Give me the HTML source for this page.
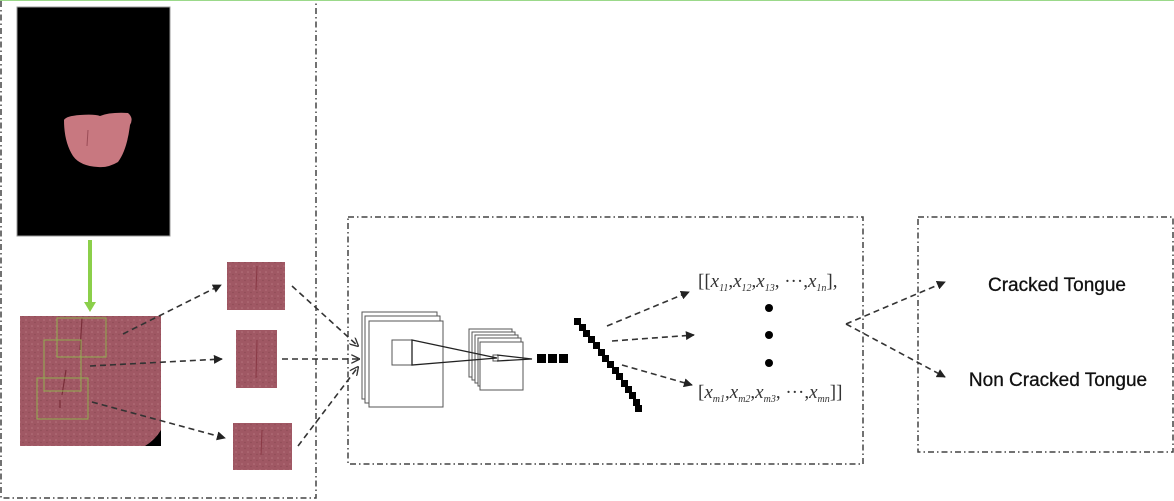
<!DOCTYPE html>
<html><head><meta charset="utf-8"><style>
html,body{margin:0;padding:0;background:#fff;width:1174px;height:501px;overflow:hidden}
</style></head><body>
<svg width="1174" height="501" viewBox="0 0 1174 501" xmlns="http://www.w3.org/2000/svg">
<defs>
<marker id="a" viewBox="0 0 10 10" refX="9" refY="5" markerWidth="9" markerHeight="9" orient="auto" markerUnits="userSpaceOnUse"><path d="M0,0L10,5L0,10z" fill="#222"/></marker>
<marker id="o" viewBox="0 0 10 10" refX="9" refY="5" markerWidth="9" markerHeight="9" orient="auto" markerUnits="userSpaceOnUse"><path d="M0,0L10,5L0,10" fill="none" stroke="#333" stroke-width="1.5"/></marker>
<pattern id="tx" width="6" height="6" patternUnits="userSpaceOnUse"><rect width="6" height="6" fill="#a05864"/><circle cx="2" cy="2" r="0.8" fill="#b6737c"/><circle cx="5" cy="4.5" r="0.7" fill="#8c4a54"/></pattern>
</defs>
<line x1="0" y1="0.5" x2="1174" y2="0.5" stroke="#9bd98a" stroke-width="1"/>
<g fill="none" stroke="#444" stroke-width="1.5" stroke-dasharray="6,3,1.5,3">
<path d="M1,1V498H316V1"/>
<rect x="348" y="217" width="515" height="247"/>
<rect x="918" y="217" width="255" height="235"/>
</g>
<rect x="17" y="7" width="153" height="229" fill="#000" stroke="#999" stroke-width="1"/>
<path d="M64,120 Q66,116 80,115 Q95,114 100,116 Q110,112 128,113 Q134,118 130,125 Q127,150 118,162 Q108,168 98,167 Q80,166 73,156 Q64,142 64,120z" fill="#c87880"/>
<path d="M88,130 L87,146" stroke="#9a4c56" stroke-width="1"/>
<line x1="90" y1="240" x2="90" y2="303" stroke="#8bcf4a" stroke-width="4"/>
<path d="M84,302L96,302L90,312z" fill="#8bcf4a"/>
<rect x="20" y="316" width="141" height="130" fill="url(#tx)"/>
<path d="M161,430 L161,446 L145,446 Q155,440 161,430z" fill="#000"/>
<path d="M82,318L80,350M66,370L62,395M60,400L60,408" stroke="#7a2f3a" stroke-width="1.2"/>
<g fill="none" stroke="#8fae4e" stroke-width="1">
<rect x="57" y="318" width="49" height="39"/>
<rect x="44" y="340" width="37" height="51"/>
<rect x="37" y="378" width="51" height="41"/>
</g>
<rect x="227" y="262" width="58" height="48" fill="url(#tx)"/>
<rect x="236" y="330" width="41" height="58" fill="url(#tx)"/>
<rect x="233" y="423" width="59" height="47" fill="url(#tx)"/>
<path d="M257,266L256,290M257,340L256,378M262,430L261,455" stroke="#8a3a46" stroke-width="1"/>
<g fill="none" stroke="#333" stroke-width="1.6" stroke-dasharray="6,4">
<line x1="123" y1="334" x2="221" y2="285" marker-end="url(#a)"/>
<line x1="90" y1="366" x2="222" y2="359" marker-end="url(#a)"/>
<line x1="92" y1="402" x2="225" y2="438" marker-end="url(#a)"/>
<line x1="292" y1="286" x2="358" y2="346" marker-end="url(#o)"/>
<line x1="282" y1="359" x2="359" y2="359" marker-end="url(#o)"/>
<line x1="298" y1="446" x2="358" y2="367" marker-end="url(#o)"/>
<line x1="607" y1="326" x2="689" y2="292" marker-end="url(#a)"/>
<line x1="612" y1="341" x2="694" y2="335" marker-end="url(#a)"/>
<line x1="622" y1="365" x2="692" y2="385" marker-end="url(#a)"/>
<line x1="846" y1="324" x2="945" y2="282" marker-end="url(#a)"/>
<line x1="846" y1="324" x2="945" y2="377" marker-end="url(#a)"/>
</g>
<g fill="#fff" stroke="#555" stroke-width="1">
<rect x="362" y="312" width="75" height="87"/>
<rect x="365" y="316" width="75" height="87"/>
<rect x="369" y="321" width="74" height="86"/>
<rect x="392" y="340" width="20" height="25"/>
<rect x="469" y="329" width="43" height="48"/>
<rect x="472" y="332" width="43" height="48"/>
<rect x="475" y="335" width="43" height="48"/>
<rect x="478" y="338" width="43" height="48"/>
<rect x="480" y="342" width="43" height="48"/>
<rect x="493" y="355" width="5" height="6"/>
</g>
<g fill="none" stroke="#222" stroke-width="1.3">
<path d="M412,340L497,358L412,365z"/>
<path d="M497,355L532,359L497,361"/>
</g>
<rect x="537" y="354" width="9" height="9" fill="#000"/>
<rect x="548" y="354" width="9" height="9" fill="#000"/>
<rect x="559" y="354" width="9" height="9" fill="#000"/>
<g fill="#000">
<rect x="574" y="318" width="7" height="7"/><rect x="579" y="324" width="7" height="7"/><rect x="583" y="330" width="7" height="7"/><rect x="588" y="336" width="7" height="7"/><rect x="593" y="342" width="7" height="7"/><rect x="598" y="349" width="7" height="7"/><rect x="602" y="355" width="7" height="7"/><rect x="607" y="361" width="7" height="7"/><rect x="612" y="367" width="7" height="7"/><rect x="616" y="373" width="7" height="7"/><rect x="621" y="380" width="7" height="7"/><rect x="625" y="386" width="7" height="7"/><rect x="629" y="392" width="7" height="7"/><rect x="633" y="399" width="7" height="7"/><rect x="635" y="405" width="7" height="7"/>
</g>
<g font-family="Liberation Serif, serif" font-size="19" fill="#333">
<text x="698" y="287">[[<tspan font-style="italic">x</tspan><tspan font-size="10" dy="4" font-style="italic">11</tspan><tspan dy="-4">,</tspan><tspan font-style="italic">x</tspan><tspan font-size="10" dy="4" font-style="italic">12</tspan><tspan dy="-4">,</tspan><tspan font-style="italic">x</tspan><tspan font-size="10" dy="4" font-style="italic">13</tspan><tspan dy="-4">, ···,</tspan><tspan font-style="italic">x</tspan><tspan font-size="10" dy="4" font-style="italic">1n</tspan><tspan dy="-4">],</tspan></text>
<text x="698" y="398">[<tspan font-style="italic">x</tspan><tspan font-size="10" dy="4" font-style="italic">m1</tspan><tspan dy="-4">,</tspan><tspan font-style="italic">x</tspan><tspan font-size="10" dy="4" font-style="italic">m2</tspan><tspan dy="-4">,</tspan><tspan font-style="italic">x</tspan><tspan font-size="10" dy="4" font-style="italic">m3</tspan><tspan dy="-4">, ···,</tspan><tspan font-style="italic">x</tspan><tspan font-size="10" dy="4" font-style="italic">mn</tspan><tspan dy="-4">]]</tspan></text>
</g>
<circle cx="769" cy="308" r="4" fill="#000"/>
<circle cx="769" cy="335" r="4" fill="#000"/>
<circle cx="769" cy="363" r="4" fill="#000"/>
<g font-family="Liberation Sans, sans-serif" font-size="19" fill="#111" text-anchor="middle" stroke="#111" stroke-width="0.3">
<text x="1057" y="291">Cracked Tongue</text>
<text x="1058" y="386">Non Cracked Tongue</text>
</g>
</svg>
</body></html>
